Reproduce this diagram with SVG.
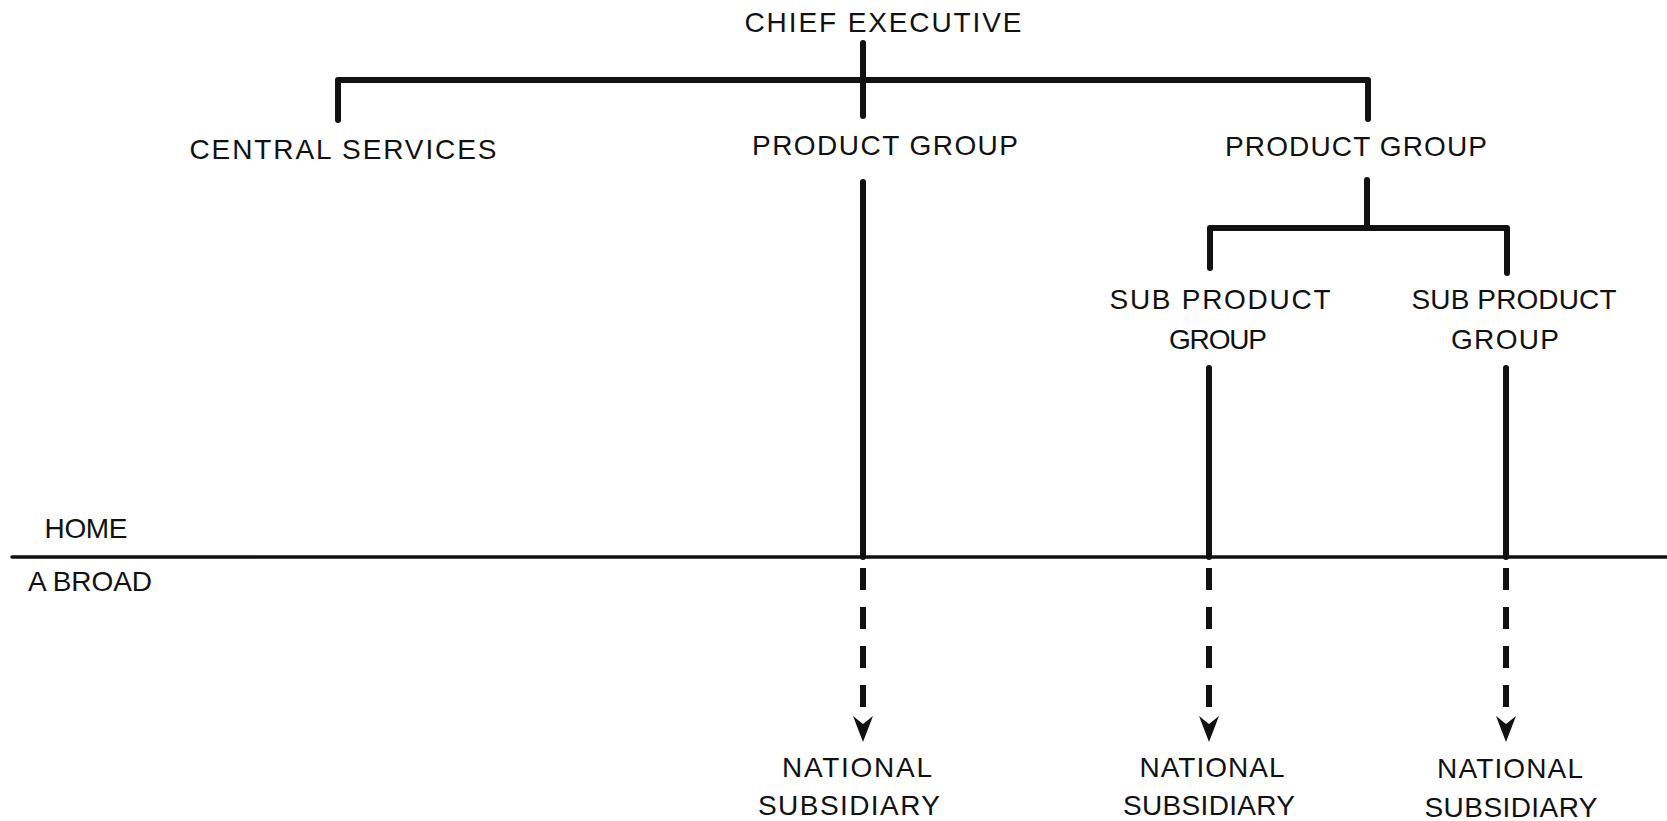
<svg xmlns="http://www.w3.org/2000/svg" width="1667" height="821" viewBox="0 0 1667 821">
<style>
text{font-family:"Liberation Sans","DejaVu Sans",sans-serif;font-size:28px;fill:#111;text-anchor:middle}
.solid{stroke:#111;stroke-width:6;fill:none;stroke-linecap:round;stroke-linejoin:round}
.thin{stroke:#111;stroke-width:3.5;fill:none;stroke-linecap:round}
.dash{stroke:#111;stroke-width:6;fill:none;stroke-dasharray:22 17}
</style>
<defs>
<marker id="ah" markerWidth="26" markerHeight="22" refX="8" refY="11" orient="auto" markerUnits="userSpaceOnUse" viewBox="0 0 26 22">
<path d="M0,1 L8,11 L0,21 L26,11 Z" fill="#111"/>
</marker>
</defs>
<rect width="1667" height="821" fill="#fff"/>
<g id="connectors">
<path class="solid" d="M863,43 V116"/>
<path class="solid" d="M338,120 V80 H1368 V119"/>
<path class="solid" d="M863,182 V557"/>
<path class="solid" d="M1367,180 V228"/>
<path class="solid" d="M1210,268 V228 H1507 V273"/>
<path class="solid" d="M1209,368 V557"/>
<path class="solid" d="M1506,368 V557"/>
<path class="thin" d="M12,557 H1667"/>
<path class="dash" d="M863,568 V724" marker-end="url(#ah)"/>
<path class="dash" d="M1209,568 V724" marker-end="url(#ah)"/>
<path class="dash" d="M1506,568 V724" marker-end="url(#ah)"/>
</g>
<g id="chief-executive"><text x="883" y="32" textLength="277" lengthAdjust="spacing">CHIEF EXECUTIVE</text></g>
<g id="central-services"><text x="343" y="159" textLength="307" lengthAdjust="spacing">CENTRAL SERVICES</text></g>
<g id="product-group-1"><text x="885" y="155" textLength="266" lengthAdjust="spacing">PRODUCT GROUP</text></g>
<g id="product-group-2"><text x="1356" y="156" textLength="262" lengthAdjust="spacing">PRODUCT GROUP</text></g>
<g id="sub-product-group-1"><text x="1220" y="309" textLength="221" lengthAdjust="spacing">SUB PRODUCT</text><text x="1218" y="349" textLength="98" lengthAdjust="spacing">GROUP</text></g>
<g id="sub-product-group-2"><text x="1514" y="309" textLength="205" lengthAdjust="spacing">SUB PRODUCT</text><text x="1505" y="349" textLength="108" lengthAdjust="spacing">GROUP</text></g>
<g id="home"><text x="86" y="538" textLength="83" lengthAdjust="spacing">HOME</text></g>
<g id="abroad"><text x="90" y="591" textLength="124" lengthAdjust="spacing">A BROAD</text></g>
<g id="national-subsidiary-1"><text x="857" y="777" textLength="150" lengthAdjust="spacing">NATIONAL</text><text x="849" y="815" textLength="182" lengthAdjust="spacing">SUBSIDIARY</text></g>
<g id="national-subsidiary-2"><text x="1212" y="777" textLength="145" lengthAdjust="spacing">NATIONAL</text><text x="1209" y="815" textLength="172" lengthAdjust="spacing">SUBSIDIARY</text></g>
<g id="national-subsidiary-3"><text x="1510" y="778" textLength="146" lengthAdjust="spacing">NATIONAL</text><text x="1511" y="817" textLength="173" lengthAdjust="spacing">SUBSIDIARY</text></g>
</svg>
